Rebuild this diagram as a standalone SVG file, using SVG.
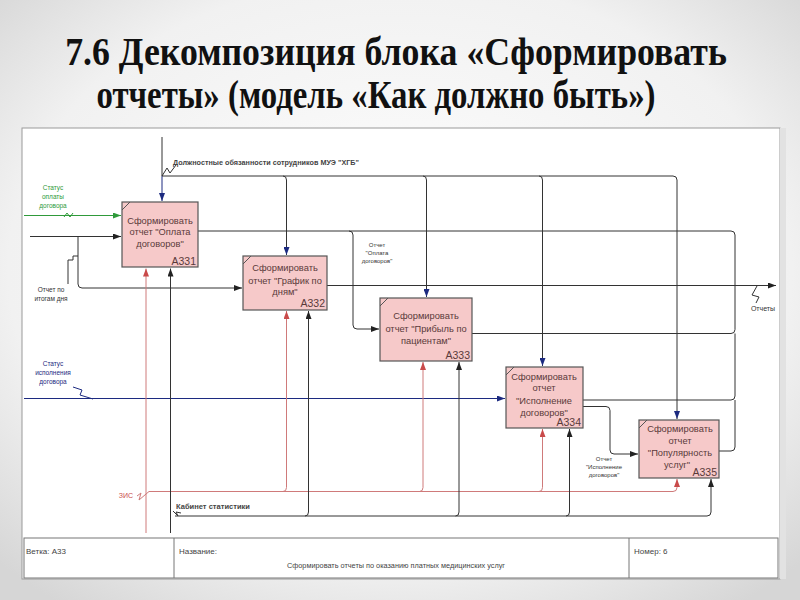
<svg xmlns="http://www.w3.org/2000/svg" width="800" height="600" viewBox="0 0 800 600">
<defs>
<radialGradient id="bg" cx="50%" cy="45%" r="70%">
<stop offset="0" stop-color="#ffffff"/><stop offset="0.7" stop-color="#f1f1f1"/><stop offset="1" stop-color="#d6d6d6"/>
</radialGradient>
<marker id="ab" viewBox="0 0 8 6" refX="8" refY="3" markerWidth="8" markerHeight="6" markerUnits="userSpaceOnUse" orient="auto"><path d="M0,0 L8,3 L0,6 z" fill="#222"/></marker>
<marker id="an" viewBox="0 0 8 6" refX="8" refY="3" markerWidth="8" markerHeight="6" markerUnits="userSpaceOnUse" orient="auto"><path d="M0,0 L8,3 L0,6 z" fill="#1c2a80"/></marker>
<marker id="ag" viewBox="0 0 8 6" refX="8" refY="3" markerWidth="8" markerHeight="6" markerUnits="userSpaceOnUse" orient="auto"><path d="M0,0 L8,3 L0,6 z" fill="#2f9a3a"/></marker>
<marker id="ar" viewBox="0 0 8 6" refX="8" refY="3" markerWidth="8" markerHeight="6" markerUnits="userSpaceOnUse" orient="auto"><path d="M0,0 L8,3 L0,6 z" fill="#c94a4a"/></marker>
</defs>
<style>
.title{font-family:"Liberation Serif",serif;font-weight:bold;font-size:40px;fill:#111;text-anchor:middle}
.box{fill:#f6c9c9;stroke:#555;stroke-width:1.2}
.bt{font-family:"Liberation Sans",Arial,sans-serif;font-size:9.3px;fill:#5a3a3a;text-anchor:middle}
.bn{font-family:"Liberation Sans",Arial,sans-serif;font-size:10.5px;fill:#5a3a3a;text-anchor:end}
.k{fill:none;stroke:#333;stroke-width:1}
.n{fill:none;stroke:#1c2a80;stroke-width:1}
.g{fill:none;stroke:#2f9a3a;stroke-width:1}
.r{fill:none;stroke:#cf7a7a;stroke-width:1}
.lb{font-family:"Liberation Sans",Arial,sans-serif;font-size:6.5px;fill:#333;text-anchor:middle}
.ft{font-family:"Liberation Sans",Arial,sans-serif;font-size:8px;fill:#444}
</style>
<rect width="800" height="600" fill="url(#bg)"/>
<g transform="translate(396,0) scale(0.895,1)">
<text class="title" x="0" y="65">7.6 Декомпозиция блока «Сформировать</text>
</g>
<g transform="translate(376,0) scale(0.82,1)">
<text class="title" x="0" y="108">отчеты» (модель «Как должно быть»)</text>
</g>

<rect x="22" y="128" width="758" height="451" fill="#fff" stroke="#9a9a9a"/>
<rect x="780" y="128" width="6" height="451" fill="#e2e2e2"/>
<g id="footer">
<rect x="24" y="538" width="754" height="40" fill="#fff" stroke="#777"/>
<line x1="174" y1="538" x2="174" y2="578" stroke="#777"/>
<line x1="629" y1="538" x2="629" y2="578" stroke="#777"/>
<text class="ft" x="26" y="554">Ветка: А33</text>
<text class="ft" x="179" y="554">Название:</text>
<text class="ft" x="287" y="568" textLength="218" lengthAdjust="spacingAndGlyphs">Сформировать отчеты по оказанию платных медицинских услуг</text>
<text class="ft" x="634" y="554">Номер: 6</text>
</g>

<g id="connectors">
<path class="k" d="M162,137 V176"/>
<path class="n" stroke-width="1.6" d="M162,176 V201" marker-end="url(#an)"/>
<path class="k" d="M162,176 H673 Q677,176 677,180 V419" marker-end="url(#an)"/>
<path class="k" d="M283,176 Q286.5,176 286.5,180 V255" marker-end="url(#an)"/>
<path class="k" d="M423,176 Q426.5,176 426.5,180 V297" marker-end="url(#an)"/>
<path class="k" d="M539,176 Q542.5,176 542.5,180 V366" marker-end="url(#an)"/>
<path class="k" d="M162,176 L167,168 L170,173 L176,165"/>
<path class="g" d="M24,215.5 H121" marker-end="url(#ag)"/>
<path class="g" d="M64,217 L67,213 L70,217 L73,213"/>
<path class="k" d="M30,236.5 H121" marker-end="url(#ab)"/>
<path class="k" d="M78,236.5 V284 Q78,288 82,288 H242" marker-end="url(#ab)"/>
<path class="k" d="M68,284 V260 L73,260 L73,256 L78,256"/>
<path class="n" d="M24,398.5 H505" marker-end="url(#an)"/>
<path class="n" d="M73,387 L82,390 L80,395 L93,399"/>
<path class="k" d="M198,231 H731 Q735,231 735,235 V285.5"/>
<path class="k" d="M327,285.5 H776" marker-end="url(#ab)"/>
<path class="k" d="M472,333.5 H731 Q735,333.5 735,329.5 V285.5"/>
<path class="k" d="M583,400 H731 Q735,400 735,396 V333.5"/>
<path class="k" d="M719,451 H731 Q735,451 735,447 V400"/>
<path class="k" d="M757,286 L752,295 L759,297 L756,303"/>
<path class="k" d="M349,231 Q353,231 353,235 V325 Q353,329 357,329 H379" marker-end="url(#ab)"/>
<path class="k" d="M583,406.5 H606 Q610,406.5 610,410.5 V450 Q610,454 614,454 H638" marker-end="url(#ab)"/>
<path class="r" d="M146,533 V268.5" marker-end="url(#ar)"/>
<path class="r" d="M149,491.5 H673 Q677,491.5 677,487.5 V479" marker-end="url(#ar)"/>
<path class="r" d="M283,491.5 Q286.5,491.5 286.5,487.5 V311" marker-end="url(#ar)"/>
<path class="r" d="M419.5,491.5 Q423,491.5 423,487.5 V362" marker-end="url(#ar)"/>
<path class="r" d="M539,491.5 Q542.5,491.5 542.5,487.5 V429" marker-end="url(#ar)"/>
<path class="r" d="M137,496 L141,493 L139,500 L149,491.5"/>
<path class="k" d="M170.5,533 V268.5" marker-end="url(#ab)"/>
<path class="k" d="M175,516 H707 Q711,516 711,512 V479" marker-end="url(#ab)"/>
<path class="k" d="M305,516 Q308.5,516 308.5,512 V311" marker-end="url(#ab)"/>
<path class="k" d="M455.5,516 Q459,516 459,512 V362" marker-end="url(#ab)"/>
<path class="k" d="M566,516 Q569.5,516 569.5,512 V429" marker-end="url(#ab)"/>
<path class="k" d="M173,511 L178,516 L176,512 L181,513"/>
</g>

<g id="labels">
<text class="lb" x="266" y="165" textLength="186" lengthAdjust="spacingAndGlyphs" style="font-weight:bold;fill:#444">Должностные обязанности сотрудников МУЭ "ХГБ"</text>
<text class="lb" x="53" y="190" style="fill:#2f9a3a">Статус</text>
<text class="lb" x="53" y="199" style="fill:#2f9a3a">оплаты</text>
<text class="lb" x="53" y="208" style="fill:#2f9a3a">договора</text>
<text class="lb" x="51" y="292">Отчет по</text>
<text class="lb" x="51" y="300.5">итогам дня</text>
<text class="lb" x="53" y="366" style="fill:#1c2a80">Статус</text>
<text class="lb" x="53" y="375" style="fill:#1c2a80">исполнения</text>
<text class="lb" x="53" y="384" style="fill:#1c2a80">договора</text>
<text class="lb" x="377" y="247" style="font-size:6px">Отчет</text>
<text class="lb" x="377" y="255" style="font-size:6px">"Оплата</text>
<text class="lb" x="377" y="263" style="font-size:6px">договоров"</text>
<text class="lb" x="604" y="461" style="font-size:6px">Отчет</text>
<text class="lb" x="604" y="469" style="font-size:6px">"Исполнение</text>
<text class="lb" x="604" y="477" style="font-size:6px">договоров"</text>
<text class="lb" x="763" y="311" style="font-size:7px">Отчеты</text>
<text class="lb" x="126" y="497.5" style="font-size:7px;fill:#c94a4a">ЗИС</text>
<text class="lb" x="213" y="509" style="font-size:7px;font-weight:bold;fill:#444" textLength="74" lengthAdjust="spacingAndGlyphs">Кабинет статистики</text>
</g>

<g id="A331">
<rect class="box" x="122" y="202" width="76" height="65"/>
<line x1="122" y1="210" x2="130" y2="202" stroke="#555"/>
<text class="bt" x="160" y="223.5">Сформировать</text>
<text class="bt" x="160" y="235">отчет "Оплата</text>
<text class="bt" x="160" y="247">договоров"</text>
<text class="bn" x="196" y="265">А331</text>
</g>
<g id="A332">
<rect class="box" x="243" y="256" width="84" height="54"/>
<line x1="243" y1="264" x2="251" y2="256" stroke="#555"/>
<text class="bt" x="285" y="271">Сформировать</text>
<text class="bt" x="285" y="283.5">отчет "График по</text>
<text class="bt" x="285" y="295">дням"</text>
<text class="bn" x="325" y="307">А332</text>
</g>
<g id="A333">
<rect class="box" x="380" y="298" width="92" height="63"/>
<line x1="380" y1="306" x2="388" y2="298" stroke="#555"/>
<text class="bt" x="426" y="319">Сформировать</text>
<text class="bt" x="426" y="331.5">отчет "Прибыль по</text>
<text class="bt" x="426" y="343.5">пациентам"</text>
<text class="bn" x="470" y="359">А333</text>
</g>
<g id="A334">
<rect class="box" x="506" y="367" width="77" height="61"/>
<line x1="506" y1="375" x2="514" y2="367" stroke="#555"/>
<text class="bt" x="544" y="379.5">Сформировать</text>
<text class="bt" x="544" y="391">отчет</text>
<text class="bt" x="544" y="403.5">"Исполнение</text>
<text class="bt" x="544" y="416">договоров"</text>
<text class="bn" x="581" y="426">А334</text>
</g>
<g id="A335">
<rect class="box" x="639" y="420" width="80" height="58"/>
<line x1="639" y1="428" x2="647" y2="420" stroke="#555"/>
<text class="bt" x="680" y="431.5">Сформировать</text>
<text class="bt" x="680" y="443.5">отчет</text>
<text class="bt" x="680" y="456">"Популярность</text>
<text class="bt" x="677" y="467.5">услуг"</text>
<text class="bn" x="717" y="476">А335</text>
</g>
</svg>
